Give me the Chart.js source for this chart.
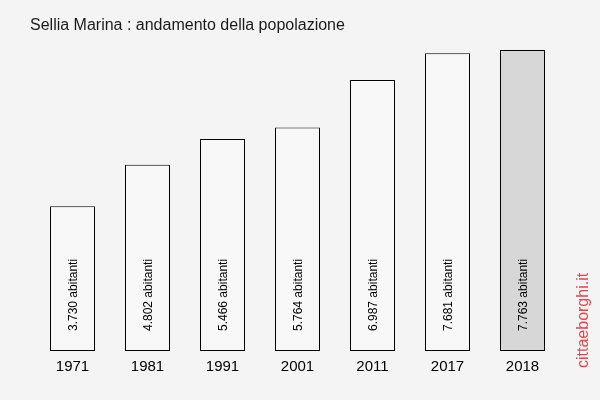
<!DOCTYPE html>
<html>
<head>
<meta charset="utf-8">
<script src="https://cdn.jsdelivr.net/npm/chart.js@4"></script>
<style>
  html, body { margin: 0; padding: 0; background: #f4f4f4; }
  #wrap { width: 600px; height: 400px; }
</style>
</head>
<body>
<div id="wrap"><canvas id="chart"></canvas></div>
<script>
// Data
const years = ['1971', '1981', '1991', '2001', '2011', '2017', '2018'];
const population = [3730, 4802, 5466, 5764, 6987, 7681, 7763];
const barLabels = ['3.730 abitanti', '4.802 abitanti', '5.466 abitanti', '5.764 abitanti',
                   '6.987 abitanti', '7.681 abitanti', '7.763 abitanti'];
const barColors = ['#f8f8f8', '#f8f8f8', '#f8f8f8', '#f8f8f8', '#f8f8f8', '#f8f8f8', '#d7d7d7'];

const titleText = 'Sellia Marina : andamento della popolazione';
const watermark = 'cittaeborghi.it';

// Background, title, watermark and rotated bar labels
const decorations = {
    id: 'decorations',
    beforeDraw(chart) {
        const ctx = chart.ctx;
        ctx.save();
        ctx.fillStyle = '#f4f4f4';
        ctx.fillRect(0, 0, chart.width, chart.height);
        ctx.restore();
    },
    afterDatasetsDraw(chart) {
        const ctx = chart.ctx;
        ctx.save();
        ctx.fillStyle = '#1a1a1a';
        ctx.font = '16px "Liberation Sans", Arial, sans-serif';
        ctx.textAlign = 'left';
        ctx.textBaseline = 'alphabetic';
        ctx.fillText(titleText, 30, 30);

        const meta = chart.getDatasetMeta(0);
        const bottom = chart.scales.y.getPixelForValue(0);
        ctx.font = '12px "Liberation Sans", Arial, sans-serif';
        ctx.fillStyle = '#000';
        meta.data.forEach((bar, i) => {
            ctx.save();
            ctx.translate(bar.x + 1, bottom - 20);
            ctx.rotate(-Math.PI / 2);
            ctx.textAlign = 'left';
            ctx.textBaseline = 'middle';
            ctx.fillText(barLabels[i], 0, 0);
            ctx.restore();
        });

        // red watermark on the right
        ctx.save();
        ctx.translate(584, 368);
        ctx.rotate(-Math.PI / 2);
        ctx.fillStyle = '#e8424a';
        ctx.font = '16px "Liberation Sans", Arial, sans-serif';
        ctx.textAlign = 'left';
        ctx.textBaseline = 'middle';
        ctx.fillText(watermark, 0, 0);
        ctx.restore();
        ctx.restore();
    }
};

new Chart(document.getElementById('chart'), {
    type: 'bar',
    data: {
        labels: years,
        datasets: [{
            data: population,
            backgroundColor: barColors,
            borderColor: '#000',
            borderWidth: 1,
            borderSkipped: false,
            barPercentage: 0.6,
            categoryPercentage: 1.0
        }]
    },
    options: {
        responsive: true,
        maintainAspectRatio: false,
        animation: false,
        devicePixelRatio: 1,
        layout: { padding: { left: 35, right: 40, top: 50, bottom: 17 } },
        plugins: {
            legend: { display: false },
            tooltip: { enabled: false }
        },
        scales: {
            x: {
                grid: { display: false, drawTicks: false },
                border: { display: false },
                ticks: {
                    padding: 7,
                    color: '#000',
                    font: { family: '"Liberation Sans", Arial, sans-serif', size: 15 }
                }
            },
            y: {
                display: false,
                min: 0,
                max: Math.max(...population)
            }
        }
    },
    plugins: [decorations]
});
</script>
</body>
</html>
